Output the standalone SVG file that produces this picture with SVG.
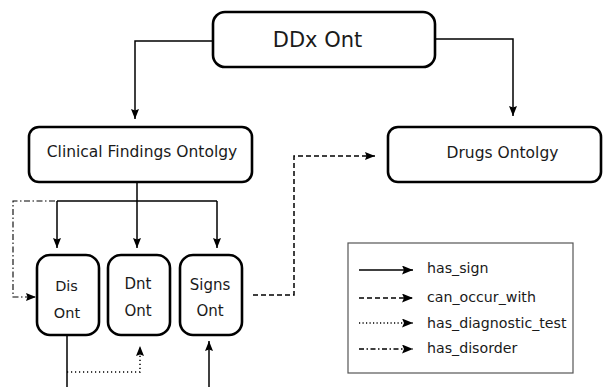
<svg xmlns="http://www.w3.org/2000/svg" width="603" height="387" viewBox="0 0 603 387">
<defs>
<marker id="ah" viewBox="0 0 10 8" refX="10" refY="4" markerWidth="10" markerHeight="8" markerUnits="userSpaceOnUse" orient="auto">
<path d="M0,0 L10,4 L0,8 L1.5,4 Z" fill="#000"/>
</marker>
<marker id="lh" viewBox="0 0 11 9" refX="11" refY="4.5" markerWidth="11" markerHeight="9" markerUnits="userSpaceOnUse" orient="auto">
<path d="M0,0 L11,4.5 L0,9 L2,4.5 Z" fill="#000"/>
</marker>
</defs>
<style>
.box{fill:#fff;stroke:#000;stroke-width:2.6}
.t{font-family:"DejaVu Sans",sans-serif;fill:#1a1a1a;text-anchor:middle}
.c{fill:none;stroke:#000;stroke-width:1.5}
.solid{marker-end:url(#ah)}
.dash{stroke-dasharray:5,3;marker-end:url(#ah)}
.dot{stroke-dasharray:1.2,2.8;marker-end:url(#ah)}
.dd{stroke-dasharray:6,2.5,1.5,2.5;stroke-width:1.1;marker-end:url(#ah)}
.lg{fill:none;stroke:#000;stroke-width:1.6;marker-end:url(#lh)}
.lt{font-family:"DejaVu Sans",sans-serif;font-size:14.2px;fill:#1a1a1a}
</style>
<rect width="603" height="387" fill="#fff"/>
<g id="connectors">
<path class="c solid" d="M213,41 H135 V119"/>
<path class="c solid" d="M435,39 H513 V116"/>
<path class="c" d="M137,182 V201"/>
<path class="c" d="M57,201 H217"/>
<path class="c solid" d="M57,201 V248"/>
<path class="c solid" d="M137,201 V248"/>
<path class="c solid" d="M217,201 V248"/>
<path class="c dd" d="M55,201 H13 V297 H36"/>
<path class="c dash" d="M253,295 H294 V156 H375"/>
<path class="c" d="M67,335 V387"/>
<path class="c dot" d="M67,372 H140 V346"/>
<path class="c solid" d="M209,387 V341"/>
</g>
<g id="ddx">
<rect class="box" x="213" y="12" width="222" height="55" rx="12"/>
<text class="t" x="317.5" y="47" font-size="21">DDx Ont</text>
</g>
<g id="clinical">
<rect class="box" x="29" y="127" width="223" height="55" rx="10"/>
<text class="t" x="142" y="157" font-size="15.5">Clinical Findings Ontolgy</text>
</g>
<g id="drugs">
<rect class="box" x="388" y="127" width="213" height="55" rx="10"/>
<text class="t" x="502.5" y="158" font-size="15.5">Drugs Ontolgy</text>
</g>
<g id="dis">
<rect class="box" x="37" y="255" width="62" height="80" rx="13"/>
<text class="t" x="66.5" y="291" font-size="14.5">Dis</text>
<text class="t" x="67" y="318" font-size="14.5">Ont</text>
</g>
<g id="dnt">
<rect class="box" x="108" y="255" width="62" height="80" rx="13"/>
<text class="t" x="138" y="289" font-size="15">Dnt</text>
<text class="t" x="138" y="316" font-size="15">Ont</text>
</g>
<g id="signs">
<rect class="box" x="180" y="255" width="62" height="80" rx="13"/>
<text class="t" x="210" y="290" font-size="15">Signs</text>
<text class="t" x="210" y="316" font-size="15">Ont</text>
</g>
<g id="legend">
<rect x="348" y="243" width="225" height="130" fill="#fff" stroke="#555" stroke-width="1.2"/>
<path class="lg" d="M359,270 H413"/>
<path class="lg" d="M359,298 H413" stroke-dasharray="5,3"/>
<path class="lg" d="M359,323 H413" stroke-dasharray="1.2,2.3" stroke-width="1.2"/>
<path class="lg" d="M359,349 H413" stroke-dasharray="5,2.5,1.5,2.5" stroke-width="1.3"/>
<text class="lt" x="427" y="273">has_sign</text>
<text class="lt" x="427" y="302">can_occur_with</text>
<text class="lt" x="427" y="328">has_diagnostic_test</text>
<text class="lt" x="427" y="353">has_disorder</text>
</g>
</svg>
